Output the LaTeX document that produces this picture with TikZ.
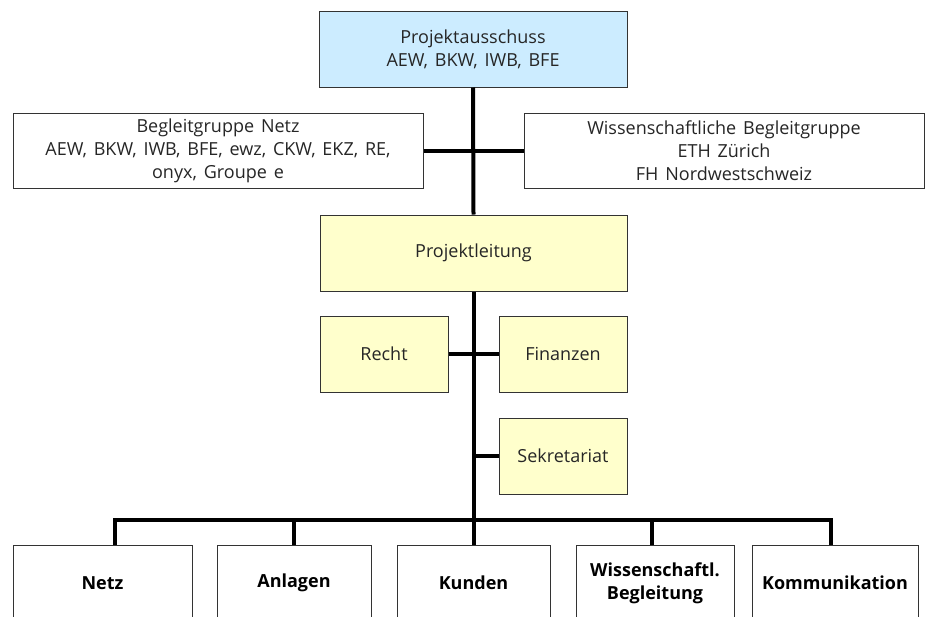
\documentclass[tikz,border=0pt]{standalone}
\usepackage{fontspec}
\setmainfont{Open Sans}
\definecolor{boxblue}{HTML}{CCECFF}
\definecolor{boxyellow}{HTML}{FFFFCC}
\definecolor{edge}{HTML}{333333}
\newcommand{\boxfont}{\fontsize{18}{23}\selectfont\spaceskip=0.38em plus 0.1em\relax}
\begin{document}
\begin{tikzpicture}[x=1pt,y=-1pt,
  box/.style={draw=edge,line width=1pt,rectangle,inner sep=0pt,align=center,
    font=\boxfont,text=black!85},
  bbox/.style={box,fill=white,font=\fontsize{18}{23}\selectfont\bfseries,text=black},
  conn/.style={line width=4pt,black}]
\clip (0,0) rectangle (925,616);
\node[box,fill=boxblue,minimum width=308pt,minimum height=76pt] (pa) at (473,49) {Projektausschuss\\AEW, BKW, IWB, BFE};
\node[box,fill=white,minimum width=410pt,minimum height=75pt] (bg) at (218,150.5) {Begleitgruppe Netz\\AEW, BKW, IWB, BFE, ewz, CKW, EKZ, RE,\\onyx, Groupe e};
\node[box,fill=white,minimum width=400pt,minimum height=75pt] (wb) at (724,150.5) {Wissenschaftliche Begleitgruppe\\ETH Zürich\\FH Nordwestschweiz};
\node[box,fill=boxyellow,minimum width=307pt,minimum height=76pt] (pl) at (473.5,253) {Projektleitung};
\node[box,fill=boxyellow,minimum width=128pt,minimum height=76pt] (recht) at (384,354) {Recht};
\node[box,fill=boxyellow,minimum width=128pt,minimum height=76pt] (fin) at (563,354) {Finanzen};
\node[box,fill=boxyellow,minimum width=128pt,minimum height=76pt] (sek) at (563,456) {Sekretariat};
\node[bbox,minimum width=179pt,minimum height=76pt] (netz) at (102.5,583) {Netz};
\node[bbox,minimum width=154pt,minimum height=76pt] (anl) at (294,583) {Anlagen};
\node[bbox,minimum width=153pt,minimum height=76pt] (kun) at (473.5,583) {Kunden};
\node[bbox,minimum width=158pt,minimum height=76pt] (wiss) at (655,583) {Wissenschaftl.\\Begleitung};
\node[bbox,minimum width=166pt,minimum height=76pt] (komm) at (835,583) {Kommunikation};
\draw[conn] (pa.south) -- (pl.north);
\draw[conn] (pl.south) -- (kun.north);
\draw[conn] (bg.east) -- (wb.west);
\draw[conn] (recht.east) -- (fin.west);
\draw[conn] (sek.west) -- (sek.west -| pl.south);
\draw[conn] ([xshift=12.5pt]netz.north) -- ++(0,-25) -| ([xshift=-4pt]komm.north);
\draw[conn] (anl.north) -- ++(0,-25);
\draw[conn] ([xshift=-3pt]wiss.north) -- ++(0,-25);
\end{tikzpicture}
\end{document}
